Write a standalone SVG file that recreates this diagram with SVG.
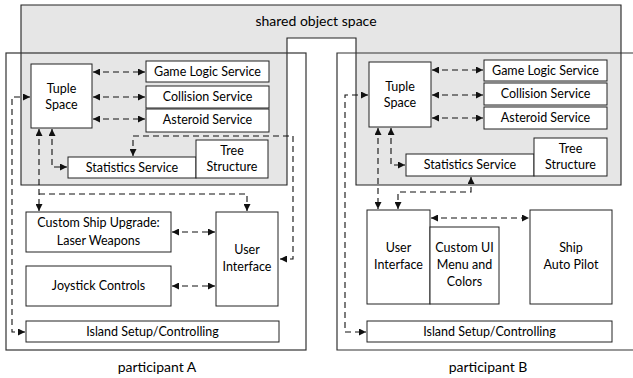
<svg xmlns="http://www.w3.org/2000/svg" width="633" height="378" viewBox="0 0 633 378">
<style>
text{font-family:Lato,"Liberation Sans",sans-serif;font-size:12.5px;fill:#000;text-anchor:middle}
.box{fill:#fff;stroke:#222;stroke-width:1}
.part{fill:none;stroke:#333;stroke-width:1.2}
.big{font-size:14px}
.c{fill:none;stroke:#111;stroke-width:1.1;stroke-dasharray:6,4;marker-start:url(#ah);marker-end:url(#ah)}
.c1{fill:none;stroke:#111;stroke-width:1.1;stroke-dasharray:6,4;marker-end:url(#ah)}
</style>
<defs>
<marker id="ah" viewBox="0 0 10 10" refX="10" refY="5" markerUnits="userSpaceOnUse" markerWidth="9" markerHeight="7" orient="auto-start-reverse">
<path d="M0,0 L10,5 L0,10 z" fill="#111"/>
</marker>
</defs>
<rect width="633" height="378" fill="#fff"/>
<g id="shared">
<path d="M21,5 H621 V185 H356 V38 H287 V185 H21 Z" fill="#e6e6e6" stroke="#222" stroke-width="1.1"/>
<text class="big" x="316" y="26">shared object space</text>
</g>
<g id="participantA">
<rect class="part" x="6" y="53" width="300" height="297"/>
<text class="big" x="157" y="372">participant A</text>
</g>
<g id="participantB">
<path class="part" d="M640,53 H337 V350 H640"/>
<text class="big" x="488" y="372">participant B</text>
</g>
<g id="connectors">
<path class="c" d="M93,72 H145"/>
<path class="c" d="M93,97 H145"/>
<path class="c" d="M93,119 H145"/>
<path class="c" d="M52,129 V167 H67"/>
<path class="c" d="M39,129 V211"/>
<path class="c1" d="M39,194 H247 V211"/>
<path class="c" d="M133,156 V136 H293 V259 H280"/>
<path class="c" d="M30,97 H12 V332 H25"/>
<path class="c" d="M172,232 H215"/>
<path class="c" d="M172,286 H215"/>
<path class="c" d="M432,70 H483"/>
<path class="c" d="M432,95 H483"/>
<path class="c" d="M432,118 H483"/>
<path class="c" d="M391,128 V165 H405"/>
<path class="c" d="M378,128 V209"/>
<path class="c" d="M471,177 V192 H398 V209"/>
<path class="c" d="M368,95 H345 V332 H366"/>
<path class="c" d="M431,218 H529"/>
</g>
<g id="tupleA"><rect class="box" x="31" y="64" width="61" height="64"/><text x="61.5" y="93">Tuple</text><text x="61.5" y="109">Space</text></g>
<g id="gameA"><rect class="box" x="146" y="61" width="123" height="21"/><text x="207.5" y="76">Game Logic Service</text></g>
<g id="collA"><rect class="box" x="146" y="86" width="123" height="22"/><text x="207.5" y="101">Collision Service</text></g>
<g id="astA"><rect class="box" x="146" y="109" width="123" height="23"/><text x="207.5" y="124">Asteroid Service</text></g>
<g id="statsA"><rect class="box" x="68" y="157" width="128" height="21"/><text x="132" y="172">Statistics Service</text></g>
<g id="treeA"><rect class="box" x="196" y="140" width="72" height="38"/><text x="232" y="155">Tree</text><text x="232" y="171">Structure</text></g>
<g id="customA"><rect class="box" x="26" y="212" width="145" height="40"/><text x="98.5" y="227">Custom Ship Upgrade:</text><text x="98.5" y="245">Laser Weapons</text></g>
<g id="joyA"><rect class="box" x="26" y="266" width="145" height="40"/><text x="98.5" y="290">Joystick Controls</text></g>
<g id="uiA"><rect class="box" x="216" y="212" width="62" height="94"/><text x="247" y="254">User</text><text x="247" y="271">Interface</text></g>
<g id="islandA"><rect class="box" x="26" y="321" width="253" height="21"/><text x="152.5" y="336">Island Setup/Controlling</text></g>
<g id="tupleB"><rect class="box" x="369" y="62" width="62" height="65"/><text x="400" y="91">Tuple</text><text x="400" y="107">Space</text></g>
<g id="gameB"><rect class="box" x="484" y="60" width="123" height="21"/><text x="545.5" y="75">Game Logic Service</text></g>
<g id="collB"><rect class="box" x="484" y="83" width="123" height="22"/><text x="545.5" y="98">Collision Service</text></g>
<g id="astB"><rect class="box" x="484" y="107" width="123" height="22"/><text x="545.5" y="122">Asteroid Service</text></g>
<g id="statsB"><rect class="box" x="406" y="154" width="128" height="22"/><text x="470" y="169">Statistics Service</text></g>
<g id="treeB"><rect class="box" x="534" y="138" width="73" height="38"/><text x="570.5" y="153">Tree</text><text x="570.5" y="169">Structure</text></g>
<g id="uiB"><rect class="box" x="367" y="210" width="63" height="94"/><text x="398.5" y="252">User</text><text x="398.5" y="269">Interface</text></g>
<g id="customB"><rect class="box" x="430" y="227" width="69" height="77"/><text x="464.5" y="252">Custom UI</text><text x="464.5" y="269">Menu and</text><text x="464.5" y="286">Colors</text></g>
<g id="shipB"><rect class="box" x="530" y="210" width="82" height="94"/><text x="571" y="252">Ship</text><text x="571" y="269">Auto Pilot</text></g>
<g id="islandB"><rect class="box" x="367" y="321" width="245" height="21"/><text x="489.5" y="336">Island Setup/Controlling</text></g>
</svg>
